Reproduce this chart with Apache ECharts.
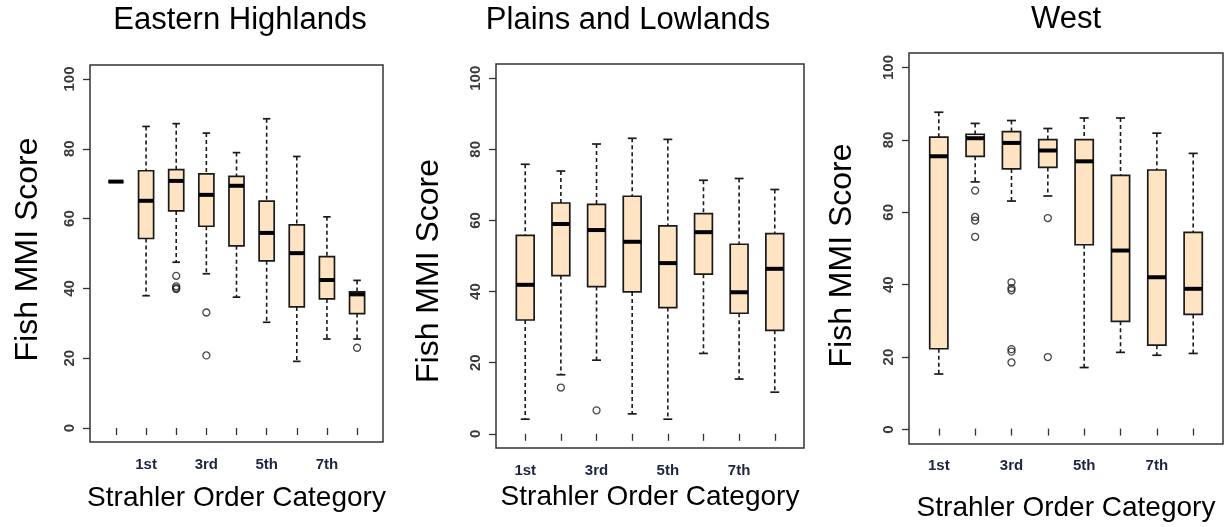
<!DOCTYPE html>
<html>
<head>
<meta charset="utf-8">
<title>Fish MMI Score by Strahler Order Category</title>
<script src="https://cdn.jsdelivr.net/npm/echarts@6/dist/echarts.min.js"></script>
<style>
  html, body { margin: 0; padding: 0; background: #fff; }
  #main { width: 1225px; height: 527px; }
</style>
</head>
<body>
<div id="main"></div>
<script>
// tick labels
const yTicks = [0, 20, 40, 60, 80, 100];
const shownOrders = ['1st', '3rd', '5th', '7th'];

// Eastern Highlands (first category is unlabelled)
const ehOrders = ['0', '1st', '2nd', '3rd', '4th', '5th', '6th', '7th', '8th'];
const ehLow  = [70.6, 37.9, 47.5, 44.2, 37.5, 30.3, 19.1, 25.5, 25.5];
const ehQ1   = [70.6, 54.3, 62.2, 57.8, 52.2, 47.9, 34.7, 37.0, 32.8];
const ehMed  = [70.6, 65.1, 70.8, 66.8, 69.4, 55.9, 50.1, 42.4, 38.3];
const ehQ3   = [70.6, 73.7, 74.0, 72.8, 72.1, 65.0, 58.2, 49.1, 39.0];
const ehHigh = [70.6, 86.4, 87.2, 84.5, 78.9, 88.6, 77.8, 60.5, 42.3];
const ehOut  = [['2nd', 43.6], ['2nd', 40.6], ['2nd', 40.1], ['2nd', 39.8],
                ['3rd', 33.1], ['3rd', 20.8], ['8th', 23.0]];

// Plains and Lowlands
const plOrders = ['1st', '2nd', '3rd', '4th', '5th', '6th', '7th', '8th'];
const plLow  = [4.1, 16.6, 20.7, 5.6, 4.1, 22.6, 15.4, 11.7];
const plQ1   = [32.0, 44.5, 41.4, 39.9, 35.5, 44.9, 33.9, 29.1];
const plMed  = [41.9, 59.0, 57.3, 54.0, 48.0, 56.7, 39.8, 46.4];
const plQ3   = [55.8, 64.9, 64.5, 66.8, 58.5, 61.9, 53.3, 56.3];
const plHigh = [75.8, 73.9, 81.5, 83.1, 82.8, 71.3, 71.8, 68.7];
const plOut  = [['2nd', 13.0], ['3rd', 6.6]];

// West
const wOrders = ['1st', '2nd', '3rd', '4th', '5th', '6th', '7th', '8th'];
const wLow  = [15.1, 68.3, 63.0, 64.4, 16.9, 21.1, 20.3, 20.8];
const wQ1   = [22.1, 75.4, 71.9, 72.3, 50.9, 29.7, 23.1, 31.6];
const wMed  = [75.4, 80.4, 79.1, 77.0, 74.0, 49.3, 41.9, 38.7];
const wQ3   = [80.7, 81.5, 82.2, 80.0, 80.0, 70.1, 71.6, 54.3];
const wHigh = [87.6, 84.5, 85.3, 83.1, 86.0, 86.0, 81.8, 76.2];
const wOut  = [['2nd', 65.9], ['2nd', 58.6], ['2nd', 57.6], ['2nd', 53.1],
               ['3rd', 40.5], ['3rd', 38.9], ['3rd', 38.3], ['3rd', 22.0], ['3rd', 21.3], ['3rd', 18.3],
               ['4th', 58.3], ['4th', 19.8]];

const font = "'Liberation Sans', Arial, Helvetica, sans-serif";

const panels = [
  { title: 'Eastern Highlands', titleX: 240, titleTop: 5, left: 90, top: 65, width: 293, height: 377,
    yNameGap: 46, yNameShift: -4, xNameGap: 42,
    cats: ehOrders, low: ehLow, q1: ehQ1, med: ehMed, q3: ehQ3, high: ehHigh, out: ehOut },
  { title: 'Plains and Lowlands', titleX: 628, titleTop: 5, left: 496, top: 64, width: 308, height: 384,
    yNameGap: 51, yNameShift: 15, xNameGap: 35,
    cats: plOrders, low: plLow, q1: plQ1, med: plMed, q3: plQ3, high: plHigh, out: plOut },
  { title: 'West', titleX: 1066, titleTop: 4, left: 909, top: 53, width: 314, height: 391,
    yNameGap: 51, yNameShift: 7, xNameGap: 51,
    cats: wOrders, low: wLow, q1: wQ1, med: wMed, q3: wQ3, high: wHigh, out: wOut }
];

// R style box: dashed whiskers, short caps, thick median
function renderBox(params, api) {
  const x = api.value(0);
  const lo = api.coord([x, api.value(1)]);
  const q1 = api.coord([x, api.value(2)]);
  const md = api.coord([x, api.value(3)]);
  const q3 = api.coord([x, api.value(4)]);
  const hi = api.coord([x, api.value(5)]);
  const band = api.size([1, 0])[0];
  const half = band * 0.25;
  const cap = half * 0.5;
  const cx = md[0];
  const ink = '#1a1a1a';
  const dashed = { stroke: ink, lineWidth: 1.6, lineDash: [4, 3] };
  const solid = { stroke: ink, lineWidth: 1.7 };
  return {
    type: 'group',
    children: [
      { type: 'line', shape: { x1: cx, y1: hi[1], x2: cx, y2: q3[1] }, style: dashed },
      { type: 'line', shape: { x1: cx, y1: q1[1], x2: cx, y2: lo[1] }, style: dashed },
      { type: 'line', shape: { x1: cx - cap, y1: hi[1], x2: cx + cap, y2: hi[1] }, style: solid },
      { type: 'line', shape: { x1: cx - cap, y1: lo[1], x2: cx + cap, y2: lo[1] }, style: solid },
      { type: 'rect', shape: { x: cx - half, y: q3[1], width: half * 2, height: q1[1] - q3[1] },
        style: { fill: '#FFE4C4', stroke: ink, lineWidth: 1.7 } },
      { type: 'line', shape: { x1: cx - half, y1: md[1], x2: cx + half, y2: md[1] },
        style: { stroke: '#000', lineWidth: 4 } }
    ]
  };
}

const option = {
  animation: false,
  backgroundColor: '#fff',
  title: [],
  grid: [],
  xAxis: [],
  yAxis: [],
  series: []
};

panels.forEach((p, i) => {
  const frame = 2 * i;
  const inner = 2 * i + 1;
  // R pads the x range by 4% on each side
  const pad = p.width * 0.04 / 1.08;
  // padding on the rotated name nudges it along the axis
  const namePad = p.yNameShift >= 0 ? [0, 2 * p.yNameShift, 0, 0] : [0, 0, 0, -2 * p.yNameShift];

  option.title.push({
    text: p.title, left: p.titleX, top: p.titleTop, textAlign: 'center', padding: 0,
    textStyle: { fontSize: 31, fontWeight: 'normal', color: '#000', fontFamily: font }
  });

  option.grid.push({
    left: p.left, top: p.top, width: p.width, height: p.height,
    show: true, borderColor: '#333', borderWidth: 1.5, backgroundColor: 'transparent'
  });
  option.grid.push({
    left: p.left + pad, top: p.top, width: p.width - 2 * pad, height: p.height
  });

  option.xAxis.push({ gridIndex: frame, type: 'value', show: false });
  option.xAxis.push({
    gridIndex: inner, type: 'category', data: p.cats,
    axisLine: { show: false },
    axisTick: { show: true, interval: 0, alignWithLabel: true, length: 7, lineStyle: { color: '#333', width: 1.3 } },
    axisLabel: {
      interval: 0, margin: 15, fontSize: 15, fontWeight: 'bold', color: '#1d2640', fontFamily: font,
      formatter: v => shownOrders.includes(v) ? v : ''
    },
    name: 'Strahler Order Category', nameLocation: 'middle', nameGap: p.xNameGap,
    nameTextStyle: { fontSize: 28, color: '#000', fontFamily: font }
  });

  option.yAxis.push({
    gridIndex: frame, type: 'value', min: -4, max: 104,
    axisLine: { show: false },
    splitLine: { show: false },
    axisTick: { show: true, customValues: yTicks, length: 7, lineStyle: { color: '#333', width: 1.3 } },
    axisLabel: { customValues: yTicks, rotate: 90, margin: 13, fontSize: 15, fontWeight: 'bold', color: '#3a3a3a', fontFamily: font },
    name: 'Fish MMI Score', nameLocation: 'middle', nameGap: p.yNameGap,
    nameTextStyle: { fontSize: 32, color: '#000', fontFamily: font, padding: namePad }
  });
  option.yAxis.push({ gridIndex: inner, type: 'value', min: -4, max: 104, show: false });

  option.series.push({
    type: 'custom',
    xAxisIndex: inner, yAxisIndex: inner,
    renderItem: renderBox,
    encode: { x: 0, y: [1, 2, 3, 4, 5] },
    data: p.cats.map((c, k) => [k, p.low[k], p.q1[k], p.med[k], p.q3[k], p.high[k]])
  });
  option.series.push({
    type: 'scatter',
    xAxisIndex: inner, yAxisIndex: inner,
    symbol: 'circle', symbolSize: 7,
    itemStyle: { color: 'transparent', borderColor: '#1a1a1a', borderWidth: 1.3 },
    data: p.out
  });
});

const chart = echarts.init(document.getElementById('main'));
chart.setOption(option);
</script>
</body>
</html>
